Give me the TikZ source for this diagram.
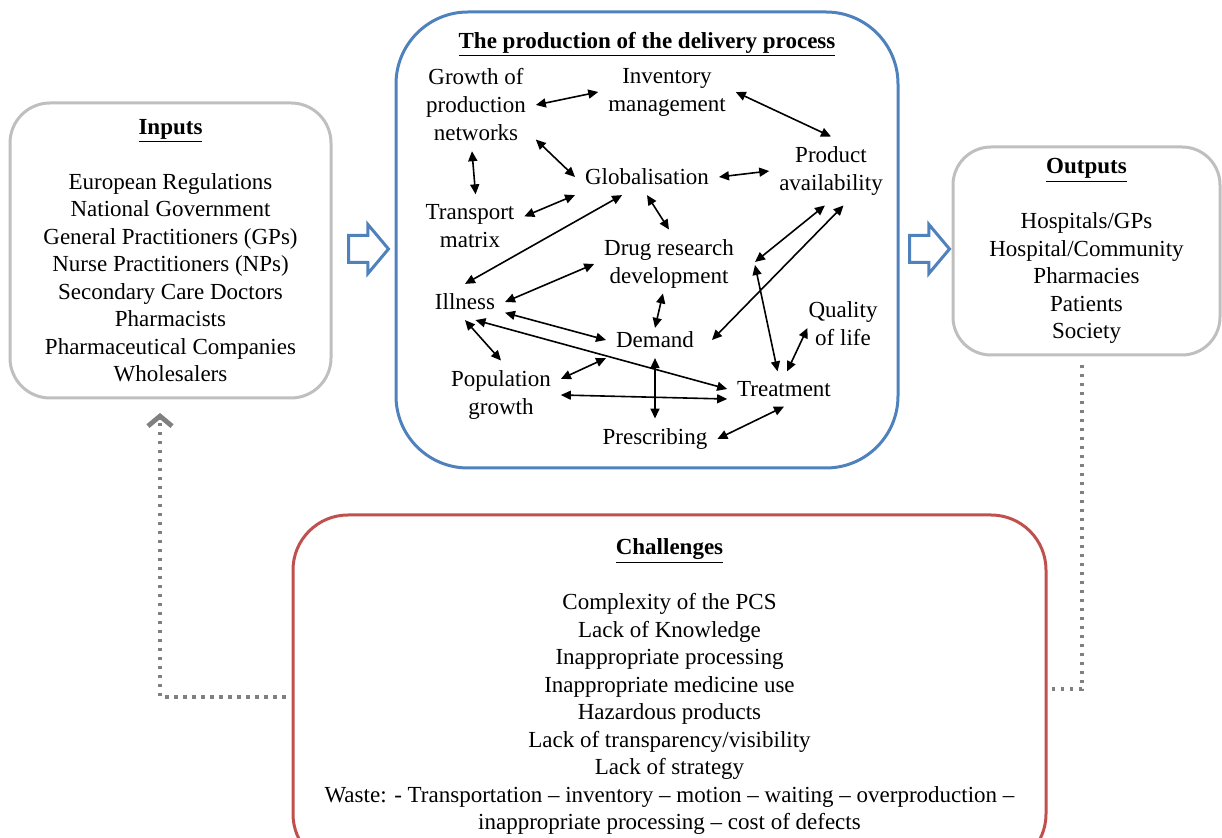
\documentclass[tikz,border=0pt]{standalone}
\usepackage{fontspec}
\setmainfont{Liberation Serif}
\usetikzlibrary{shapes.arrows, arrows.meta, positioning}
\definecolor{boxgray}{HTML}{BFBFBF}
\definecolor{problue}{HTML}{4F81BD}
\definecolor{chalred}{HTML}{C0504D}
\definecolor{linkgray}{HTML}{808080}
\tikzset{
  sidebox/.style={rectangle, rounded corners=20pt, draw=boxgray, line width=1.5pt,
                  align=center, inner sep=0pt, font=\fontsize{11.5}{13.75}\selectfont},
  probox/.style={rectangle, rounded corners=36pt, draw=problue, line width=1.5pt,
                 minimum width=251pt, minimum height=228pt},
  chalbox/.style={rectangle, rounded corners=27.5pt, draw=chalred, line width=1.5pt,
                  minimum width=376.5pt, minimum height=177pt},
  boxtext/.style={align=center, inner sep=0pt, font=\fontsize{11.5}{13.75}\selectfont},
  item/.style={align=center, inner sep=1pt, outer sep=4pt, font=\fontsize{11.5}{14}\selectfont},
  blockarrow/.style={single arrow, draw=problue, fill=white, line width=1.5pt,
                     inner sep=6pt, minimum height=20pt, single arrow head extend=5.5pt,
                     single arrow tip angle=100, single arrow head indent=0pt, anchor=tail},
  twoway/.style={{Triangle[length=5pt,width=4.5pt]}-{Triangle[length=5pt,width=4.5pt]}, line width=0.8pt},
  feedback/.style={draw=linkgray, line width=1.8pt, dash pattern=on 1.8pt off 2.7pt},
  feedtip/.style={draw=linkgray, line width=1.8pt,
                  -{Straight Barb[length=5pt,width=12pt,line width=2.4pt]}},
}

\begin{document}
\begin{tikzpicture}[x=0.5pt, y=-0.5pt]

  \useasboundingbox (0,0) rectangle (1222,838);

  % =====================================================
  % INPUTS / OUTPUTS
  % =====================================================

  \node[sidebox, minimum width=160.5pt, minimum height=147.5pt]
    (inputs) at (170.5,250.5)
    {\underline{\textbf{Inputs}}\\[13.75pt]
     European Regulations\\
     National Government\\
     General Practitioners (GPs)\\
     Nurse Practitioners (NPs)\\
     Secondary Care Doctors\\
     Pharmacists\\
     Pharmaceutical Companies\\
     Wholesalers};

  \node[sidebox, rounded corners=19pt, minimum width=133.5pt, minimum height=104pt]
    (outputs) at (1086.5,251)
    {\underline{\textbf{Outputs}}\\[13.75pt]
     Hospitals/GPs\\
     Hospital/Community\\
     Pharmacies\\
     Patients\\
     Society};

  \node[blockarrow] (inflow) at (347,249) {};
  \node[blockarrow] (outflow) at (908,249) {};

  % =====================================================
  % PRODUCTION OF THE DELIVERY PROCESS
  % =====================================================

  \node[probox] (prod) at (647,240) {};

  \node[boxtext, below=10.5pt of prod.north]
    (prodtitle) {\underline{\textbf{The production of the delivery process}}};

  \node[item] (growth) at (476,105) {Growth of\\production\\networks};
  \node[item] (inventory) at (667,92) {Inventory\\management};
  \node[item] (product) at (831,171) {Product\\availability};
  \node[item] (glob) at (647,177) {Globalisation};
  \node[item] (transport) at (470,226) {Transport\\matrix};
  \node[item] (drug) at (669,264) {Drug research\\development};
  \node[item] (illness) at (465,302) {Illness};
  \node[item] (quality) at (843,324) {Quality\\of life};
  \node[item] (demand) at (655,340) {Demand};
  \node[item] (pop) at (501,395) {Population\\growth};
  \node[item] (treat) at (784,389) {Treatment};
  \node[item] (presc) at (655,439) {Prescribing};

  \coordinate (junction) at (755,262);

  \draw[twoway] (growth.east) -- (inventory.west);
  \draw[twoway] (inventory.east) -- (product.north);
  \draw[twoway] (growth.-30) -- (glob.west);
  \draw[twoway] (growth.-95) -- (transport.80);
  \draw[twoway] (glob.east) -- (product.west);
  \draw[twoway] (transport.10) -- (glob.south west);
  \draw[twoway] (glob.-144) -- (illness.north);
  \draw[twoway] (glob.south) -- (drug.north);
  \draw[twoway] (product.-100) -- (junction);
  \draw[twoway] ([yshift=-1.5pt]junction) -- (treat.110);
  \draw[twoway] (product.-70) -- ([xshift=4pt]demand.east);
  \draw[twoway] (illness.east) -- (drug.west);
  \draw[twoway] ([yshift=2.5pt]drug.-100) -- ([yshift=-3pt]demand.north);
  \draw[twoway] (illness.-15) -- (demand.west);
  \draw[twoway] (illness.-60) -- (treat.west);
  \draw[twoway] (illness.south) -- (pop.north);
  \draw[twoway] (pop.15) -- (demand.south west);
  \draw[twoway] (demand.south) -- (presc.north);
  \draw[twoway] (pop.east) -- (treat.-170);
  \draw[twoway] (treat.80) -- ([xshift=4.5pt,yshift=-2pt]quality.west);
  \draw[twoway] (presc.east) -- (treat.south);

  % =====================================================
  % CHALLENGES
  % =====================================================

  \node[chalbox] (chal) at (669.5,692) {};

  \node[boxtext, below=12.5pt of chal.north]
    (chaltext)
    {\underline{\textbf{Challenges}}\\[13.75pt]
     Complexity of the PCS\\
     Lack of Knowledge\\
     Inappropriate processing\\
     Inappropriate medicine use\\
     Hazardous products\\
     Lack of transparency/visibility\\
     Lack of strategy\\
     Waste: - Transportation -- inventory -- motion -- waiting -- overproduction --\\
     inappropriate processing -- cost of defects};

  % =====================================================
  % FEEDBACK
  % =====================================================

  \coordinate (backtip) at ([xshift=-5.25pt,yshift=-6.75pt]inputs.south);

  \draw[feedback]
    ([xshift=-3pt,yshift=-2.5pt]chal.west)
    -| ([yshift=-3pt]backtip);
  \draw[feedtip]
    ([yshift=-3pt]backtip) -- (backtip);

  \draw[feedback]
    ([xshift=2pt,yshift=1.5pt]chal.east)
    -| ([xshift=-2.25pt,yshift=-3pt]outputs.south);

\end{tikzpicture}
\end{document}
